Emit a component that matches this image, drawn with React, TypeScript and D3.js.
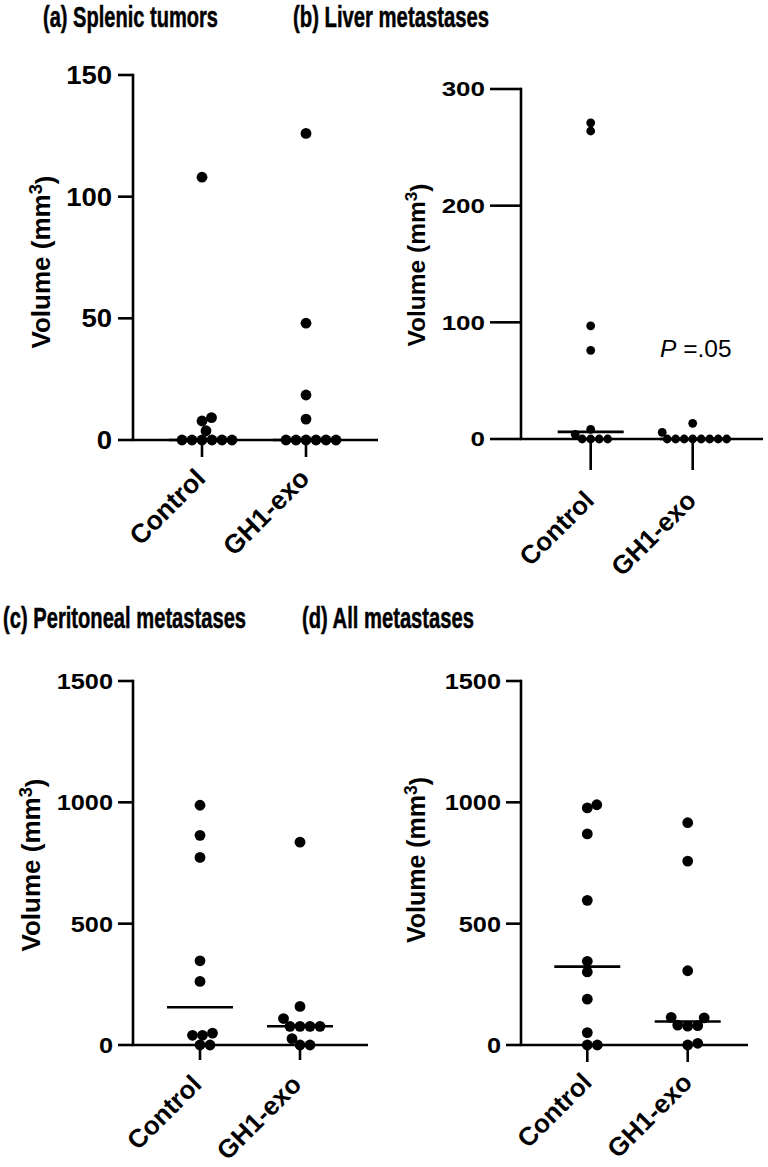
import React, { useLayoutEffect, useRef, useState } from "react";
import * as d3 from "d3";

const categories = ["Control", "GH1-exo"];
const panelTitles = ["(a) Splenic tumors", "(b) Liver metastases", "(c) Peritoneal metastases", "(d) All metastases"];
const yTicksA = [0, 50, 100, 150];
const yTicksB = [0, 100, 200, 300];
const yTicksC = [0, 500, 1000, 1500];
const yTicksD = [0, 500, 1000, 1500];

const splenicControl = [108, 9.2, 7.8, 3.8, 0, 0, 0, 0, 0, 0];
const splenicGH1 = [126, 48, 18.5, 8.6, 0, 0, 0, 0, 0, 0];
const liverControl = [271, 264, 97, 76, 8.3, 4, 0, 0, 0, 0];
const liverGH1 = [13.4, 5.7, 0, 0, 0, 0, 0, 0, 0, 0];
const periControl = [988, 864, 773, 347, 262, 49, 40, 40, 0, 0];
const periGH1 = [836, 159, 109, 77, 77, 77, 77, 26, 0, 0];
const allControl = [990, 977, 870, 596, 345, 301, 189, 51, 0, 0];
const allGH1 = [916, 758, 306, 114, 112, 82, 80, 78, 7, 0];
const pValueText = ".05";

const FONT = "'Liberation Sans', Arial, Helvetica, sans-serif";

type Layout = {
  title: string;
  titleX: number;
  titleY: number;
  titleLen: number;
  titleSize: number;
  axisX: number;
  axisY: number;
  topY: number;
  xEnd: number;
  cats: number[];
  ticks: number[];
  yMax: number;
  yTickLen: number;
  tickLabelSize: number;
  tickLabelSx: number;
  tickGap: number;
  catTickLen: number;
  catLabelDx: number;
  catLabelDy: number;
  catLabelSize: number;
  yLabelX: number;
  yLabelY: number;
  yLabelSize: number;
  r: number;
  series: number[][];
  pText?: boolean;
};

const layouts: Layout[] = [
  {
    title: panelTitles[0], titleX: 43, titleY: 27, titleLen: 175, titleSize: 29,
    axisX: 133, axisY: 440, topY: 75, xEnd: 378, cats: [202, 306], ticks: yTicksA, yMax: 150,
    yTickLen: 15, tickLabelSize: 25, tickLabelSx: 1.1, tickGap: 6, catTickLen: 17, catLabelDx: 5, catLabelDy: 23, catLabelSize: 26.5,
    yLabelX: 50, yLabelY: 262, yLabelSize: 26, r: 5.4, series: [splenicControl, splenicGH1],
  },
  {
    title: panelTitles[1], titleX: 293, titleY: 27, titleLen: 196, titleSize: 29,
    axisX: 521, axisY: 439, topY: 89, xEnd: 763, cats: [590.7, 692.7], ticks: yTicksB, yMax: 300,
    yTickLen: 31, tickLabelSize: 20, tickLabelSx: 1.3, tickGap: 5, catTickLen: 31, catLabelDx: 5, catLabelDy: 32, catLabelSize: 26,
    yLabelX: 425, yLabelY: 265, yLabelSize: 24.5, r: 4.4, series: [liverControl, liverGH1], pText: true,
  },
  {
    title: panelTitles[2], titleX: 3, titleY: 628, titleLen: 243, titleSize: 29,
    axisX: 133, axisY: 1045, topY: 681, xEnd: 368, cats: [200, 300], ticks: yTicksC, yMax: 1500,
    yTickLen: 15, tickLabelSize: 22, tickLabelSx: 1.15, tickGap: 5, catTickLen: 15, catLabelDx: 3, catLabelDy: 26, catLabelSize: 26,
    yLabelX: 40, yLabelY: 865, yLabelSize: 26, r: 5.4, series: [periControl, periGH1],
  },
  {
    title: panelTitles[3], titleX: 302, titleY: 628, titleLen: 172, titleSize: 29,
    axisX: 521, axisY: 1045, topY: 681, xEnd: 748, cats: [587.3, 687.7], ticks: yTicksD, yMax: 1500,
    yTickLen: 15, tickLabelSize: 22, tickLabelSx: 1.15, tickGap: 5, catTickLen: 17, catLabelDx: 6, catLabelDy: 22, catLabelSize: 26,
    yLabelX: 425, yLabelY: 860, yLabelSize: 25, r: 5.4, series: [allControl, allGH1],
  },
];

function beeswarm(values: number[], y: (v: number) => number, cx: number, minDist: number) {
  const order = values.map((v, i) => ({ v, i })).sort((a, b) => a.v - b.v);
  const placed: { x: number; y: number }[] = [];
  const step = 0.5;
  for (const p of order) {
    const py = y(p.v);
    let k = 0;
    let off = 0;
    while (k < 2000) {
      const m = Math.ceil(k / 2) * step;
      const cand = k === 0 ? 0 : k % 2 === 1 ? m : -m;
      const ok = placed.every((q) => (q.x - (cx + cand)) ** 2 + (q.y - py) ** 2 >= minDist * minDist);
      if (ok) {
        off = cand;
        break;
      }
      k++;
    }
    placed.push({ x: cx + off, y: py });
  }
  return placed;
}

function Title({ L }: { L: Layout }) {
  const ref = useRef<SVGTextElement>(null);
  const [sx, setSx] = useState(0.8);
  useLayoutEffect(() => {
    if (ref.current) {
      const w = ref.current.getComputedTextLength();
      if (w > 0) setSx(L.titleLen / w);
    }
  }, [L.titleLen]);
  return (
    <text
      ref={ref}
      transform={`translate(${L.titleX},${L.titleY}) scale(${sx},1)`}
      fontSize={L.titleSize}
      fontWeight="bold"
      stroke="#000"
      strokeWidth={0.5}
    >
      {L.title}
    </text>
  );
}

function Panel({ L }: { L: Layout }) {
  const y = d3.scaleLinear().domain([0, L.yMax]).range([L.axisY, L.topY]);
  const x = d3.scaleOrdinal<string, number>().domain(categories).range(L.cats);
  const sw = 2.6;
  return (
    <g fontFamily={FONT} fill="#000">
      <Title L={L} />
      {/* y axis */}
      <line x1={L.axisX} x2={L.axisX} y1={L.axisY} y2={L.topY - sw / 2} stroke="#000" strokeWidth={sw} />
      {L.ticks.map((t) => (
        <g key={t}>
          <line x1={L.axisX - L.yTickLen} x2={L.axisX} y1={y(t)} y2={y(t)} stroke="#000" strokeWidth={sw} />
          <text
            transform={`translate(${L.axisX - L.yTickLen - L.tickGap},${y(t)}) scale(${L.tickLabelSx},1)`}
            textAnchor="end"
            dy="0.36em"
            fontSize={L.tickLabelSize}
            fontWeight="bold"
          >
            {t}
          </text>
        </g>
      ))}
      {/* x axis */}
      <line x1={L.axisX - sw / 2} x2={L.xEnd} y1={L.axisY} y2={L.axisY} stroke="#000" strokeWidth={sw} />
      {categories.map((c) => (
        <g key={c}>
          <line x1={x(c)} x2={x(c)} y1={L.axisY} y2={L.axisY + L.catTickLen} stroke="#000" strokeWidth={sw} />
          <text
            transform={`translate(${x(c) + L.catLabelDx},${L.axisY + L.catTickLen + L.catLabelDy}) rotate(-45)`}
            textAnchor="end"
            fontSize={L.catLabelSize}
            fontWeight="bold"
          >
            {c}
          </text>
        </g>
      ))}
      {/* y label */}
      <text
        transform={`translate(${L.yLabelX},${L.yLabelY}) rotate(-90)`}
        textAnchor="middle"
        fontSize={L.yLabelSize}
        fontWeight="bold"
      >
        Volume (mm
        <tspan dy="-0.45em" fontSize="0.7em">3</tspan>
        <tspan dy="0.45em">)</tspan>
      </text>
      {/* points */}
      {L.series.map((vals, si) => {
        const cx = x(categories[si]);
        const pts = beeswarm(vals, y, cx, L.r * 2 * 0.92);
        const med = d3.median(vals) ?? 0;
        return (
          <g key={si}>
            {pts.map((p, i) => (
              <circle key={i} cx={p.x} cy={p.y} r={L.r} fill="#000" />
            ))}
            <line x1={cx - 33} x2={cx + 33} y1={y(med)} y2={y(med)} stroke="#000" strokeWidth={sw} />
          </g>
        );
      })}
      {L.pText && (
        <text x={660} y={357} fontSize={24.5}>
          <tspan fontStyle="italic">P</tspan>
          <tspan> =</tspan>
          {pValueText}
        </text>
      )}
    </g>
  );
}

export default function App() {
  return (
    <svg
      width={768}
      height={1167}
      viewBox="0 0 768 1167"
      style={{ position: "absolute", left: 0, top: 0, background: "#fff" }}
    >
      <rect x={0} y={0} width={768} height={1167} fill="#fff" />
      {layouts.map((L, i) => (
        <Panel key={i} L={L} />
      ))}
    </svg>
  );
}
